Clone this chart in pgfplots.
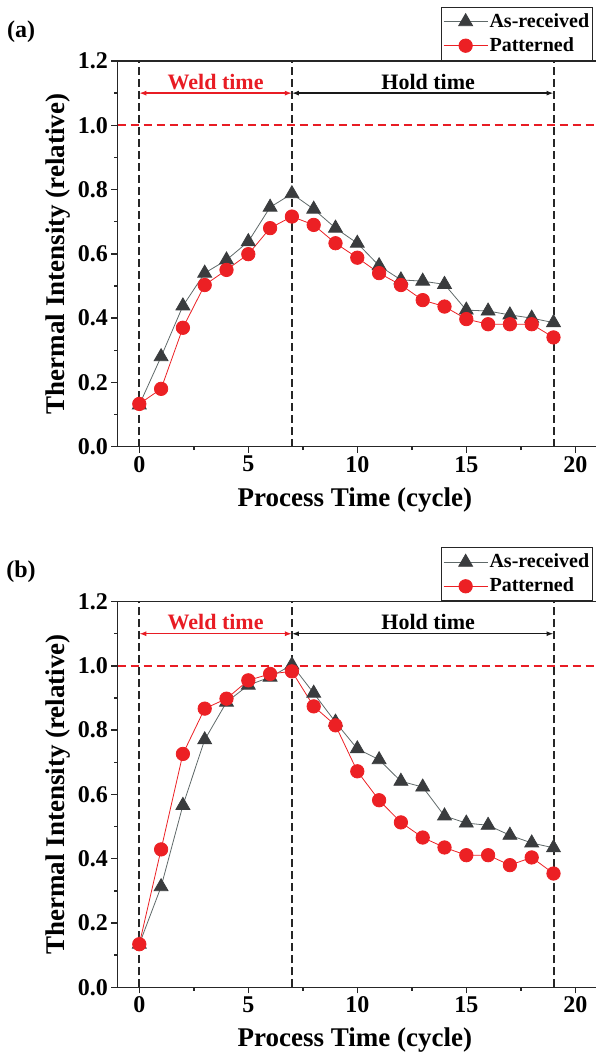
\documentclass[border=0pt]{standalone}
\usepackage{fontspec}
\setmainfont{Liberation Serif}
\usepackage{pgfplots}
\usepackage{pgfplotstable}
\pgfplotsset{compat=1.18}
\usetikzlibrary{arrows.meta}

\definecolor{asrec}{RGB}{58,60,62}
\definecolor{asline}{RGB}{95,105,105}
\definecolor{patt}{RGB}{236,32,36}
\definecolor{weldred}{RGB}{232,28,36}

% (a) thermal intensity per cycle
\pgfplotstableread{
x y
0 0.130
1 0.280
2 0.438
3 0.540
4 0.581
5 0.638
6 0.745
7 0.787
8 0.739
9 0.680
10 0.633
11 0.563
12 0.519
13 0.515
14 0.505
15 0.425
16 0.422
17 0.410
18 0.400
19 0.386
}\aAs
\pgfplotstableread{
x y
0 0.133
1 0.180
2 0.370
3 0.503
4 0.550
5 0.599
6 0.680
7 0.716
8 0.690
9 0.633
10 0.588
11 0.540
12 0.503
13 0.456
14 0.436
15 0.397
16 0.381
17 0.381
18 0.381
19 0.340
}\aPat
% (b)
\pgfplotstableread{
x y
0 0.134
1 0.313
2 0.566
3 0.770
4 0.887
5 0.940
6 0.965
7 1.003
8 0.915
9 0.825
10 0.742
11 0.708
12 0.641
13 0.623
14 0.533
15 0.511
16 0.504
17 0.473
18 0.449
19 0.434
}\bAs
\pgfplotstableread{
x y
0 0.134
1 0.429
2 0.726
3 0.867
4 0.898
5 0.955
6 0.975
7 0.983
8 0.874
9 0.815
10 0.672
11 0.582
12 0.513
13 0.466
14 0.435
15 0.411
16 0.411
17 0.380
18 0.404
19 0.354
}\bPat

\pgfplotsset{
  thermal/.style={
    scale only axis, width=479.6pt, height=385.7pt,
    xmin=-1, xmax=21, ymin=0, ymax=1.2,
    axis x line=box, axis y line*=left,
    xtick={0,5,10,15,20}, ytick={0,0.2,0.4,0.6,0.8,1.0,1.2},
    minor x tick num=1, minor y tick num=1,
    xtick pos=bottom, ytick pos=left, tick align=outside,
    major tick length=6pt, minor tick length=3.5pt,
    axis line style={line width=1.5pt, black!85},
    tick style={line width=1.5pt, black!85},
    tick label style={font=\fontsize{24}{28}\selectfont\bfseries},
    /pgf/number format/assume math mode=true,
    yticklabel style={/pgf/number format/.cd, fixed, fixed zerofill, precision=1},
    label style={font=\fontsize{27}{32}\selectfont\bfseries},
    xlabel={Process Time (cycle)},
    ylabel={Thermal Intensity (relative)},
    xlabel style={at={(axis description cs:0.495,-0.138)}, anchor=center},
    ylabel style={at={(axis description cs:-0.124,0.5)}, anchor=center},
    legend style={at={(axis description cs:0.674,1.1408)}, anchor=north west,
      draw=black!85, line width=1pt, fill=white,
      font=\fontsize{20}{24}\selectfont\bfseries,
      inner xsep=2pt, inner ysep=3.5pt, row sep=2pt,
      nodes={inner sep=1.5pt, text height=15pt, text depth=4pt}},
    legend cell align=left,
    legend image code/.code={
      \draw[mark repeat=2, mark phase=2, ##1]
        plot coordinates {(0pt,0pt) (22pt,0pt) (44pt,0pt)};},
  },
  asstyle/.style={color=asline, line width=0.8pt, mark=triangle*, mark size=8pt,
    mark options={fill=asrec, draw=asrec, solid}},
  patstyle/.style={color=patt, line width=0.8pt, mark=*, mark size=6.7pt,
    mark options={fill=patt, draw=patt, solid}},
  guides/.style={
    execute at end axis={
      \draw[black!85, line width=2pt, dash pattern=on 8pt off 4pt]
        (axis cs:0,0) -- (axis cs:0,1.2)
        (axis cs:7,0) -- (axis cs:7,1.2)
        (axis cs:19,0) -- (axis cs:19,1.2);
      \draw[weldred, line width=1.7pt, dash pattern=on 8pt off 5pt]
        (axis cs:-1,1) -- (axis cs:21,1);
      \draw[weldred, line width=1.3pt,
        {Latex[length=7pt,width=5pt]}-{Latex[length=7pt,width=5pt]}]
        (axis cs:0,1.1) -- (axis cs:7,1.1);
      \draw[black!90, line width=1.3pt,
        {Latex[length=7pt,width=5pt]}-{Latex[length=7pt,width=5pt]}]
        (axis cs:7,1.1) -- (axis cs:19,1.1);
      \node[weldred, font=\fontsize{22}{26}\selectfont\bfseries, anchor=base,
        inner sep=0pt, yshift=4pt] at (axis cs:3.5,1.1) {Weld time};
      \node[black, font=\fontsize{22}{26}\selectfont\bfseries, anchor=base,
        inner sep=0pt, yshift=4pt] at (axis cs:13.25,1.1) {Hold time};
    }
  },
}

\begin{document}
\begin{tikzpicture}
\path[use as bounding box] (0,0) rectangle (595pt,1057pt);

\node[font=\fontsize{24}{28}\selectfont\bfseries, anchor=center] at (21pt,1025pt) {(a)};
\begin{axis}[thermal, guides, at={(117.5pt,610.3pt)}, anchor=south west]
  \addplot[asstyle] table[x=x, y=y] {\aAs};
  \addlegendentry{As-received}
  \addplot[patstyle] table[x=x, y=y] {\aPat};
  \addlegendentry{Patterned}
\end{axis}

\node[font=\fontsize{24}{28}\selectfont\bfseries, anchor=center] at (21pt,485pt) {(b)};
\begin{axis}[thermal, guides, at={(117.5pt,69.7pt)}, anchor=south west]
  \addplot[asstyle] table[x=x, y=y] {\bAs};
  \addlegendentry{As-received}
  \addplot[patstyle] table[x=x, y=y] {\bPat};
  \addlegendentry{Patterned}
\end{axis}
\end{tikzpicture}
\end{document}
